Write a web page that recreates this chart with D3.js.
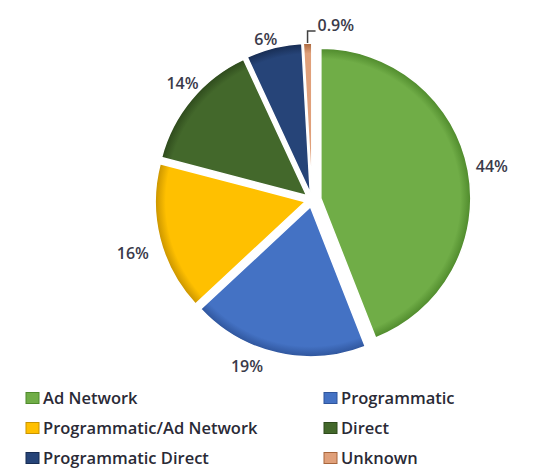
<!DOCTYPE html>
<html><head><meta charset="utf-8">
<script src="https://cdn.jsdelivr.net/npm/d3@7/dist/d3.min.js"></script>
<style>body{margin:0;background:#fff}svg{display:block}</style>
</head><body>
<script>
const categories = ["Ad Network","Programmatic","Programmatic/Ad Network","Direct","Programmatic Direct","Unknown"];
const values = [44,19,16,14,6,0.9];
const valueLabels = ["44%","19%","16%","14%","6%","0.9%"];
const colors = ["#70ad47","#4472c4","#ffc000","#43682b","#264478","#e0a07a"];
const edgeColors = ["#4f8a2c","#2f559c","#c99400","#2e4a1c","#172c52","#a8663c"];

const W=556,H=470, cx=312, cy=200, R=150;
const FONT="Open Sans, sans-serif";
// label placement layout (angle shift in degrees from slice bisector, radius)
const labelShift=[0,8.5,-2.5,2,-2,0];
const labelRad=[183,179,187,174,167,0];

const svg=d3.select("body").append("svg").attr("width",W).attr("height",H);
const defs=svg.append("defs");
colors.forEach((c,i)=>{
  const g=defs.append("radialGradient").attr("id","g"+i).attr("gradientUnits","userSpaceOnUse")
    .attr("cx",0).attr("cy",0).attr("r",R);
  g.append("stop").attr("offset","0%").attr("stop-color",c);
  g.append("stop").attr("offset","93%").attr("stop-color",c);
  g.append("stop").attr("offset","100%").attr("stop-color",edgeColors[i]);
});

const pie=d3.pie().sort(null).value(d=>d)(values);
const arc=d3.arc().innerRadius(0).outerRadius(R);
const explode=[9,7,7,7,7,7];
const gPie=svg.append("g").attr("transform",`translate(${cx},${cy})`);
pie.forEach((p,i)=>{
  const mid=(p.startAngle+p.endAngle)/2;
  const dx=Math.sin(mid)*explode[i], dy=-Math.cos(mid)*explode[i];
  gPie.append("path").attr("d",arc(p)).attr("transform",`translate(${dx},${dy})`)
    .attr("fill",`url(#g${i})`).attr("stroke","#fff").attr("stroke-width",1.5);
});

pie.forEach((p,i)=>{
  const mid=(p.startAngle+p.endAngle)/2;
  if(i===5){
    const x0=Math.sin(mid)*(R+7), y0=-Math.cos(mid)*(R+7);
    gPie.append("path").attr("d",`M${x0},${y0}V${-R-19}H${x0+8}`)
      .attr("fill","none").attr("stroke","#404040").attr("stroke-width",1.5);
    gPie.append("text").attr("x",x0+10).attr("y",-R-25).attr("dy","0.35em")
      .attr("font-family",FONT).attr("font-weight",600).attr("font-size",16).attr("fill","#3a3a4a")
      .text(valueLabels[i]);
    return;
  }
  const a=mid+labelShift[i]*Math.PI/180, r=labelRad[i];
  gPie.append("text").attr("x",Math.sin(a)*r).attr("y",-Math.cos(a)*r)
    .attr("text-anchor","middle").attr("dy","0.35em")
    .attr("font-family",FONT).attr("font-weight",600).attr("font-size",16).attr("fill","#3a3a4a")
    .text(valueLabels[i]);
});

const leg=svg.append("g");
categories.forEach((c,i)=>{
  const col=i%2, row=Math.floor(i/2);
  const x=col===0?26:324, y=398+row*30;
  leg.append("rect").attr("x",x).attr("y",y-5.5).attr("width",13).attr("height",11).attr("fill",colors[i])
    .attr("stroke",edgeColors[i]).attr("stroke-width",1);
  leg.append("text").attr("x",x+17).attr("y",y).attr("dy","0.35em")
    .attr("font-family",FONT).attr("font-weight",600).attr("font-size",16.5).attr("fill","#2a2a36").text(c);
});
</script>
</body></html>
